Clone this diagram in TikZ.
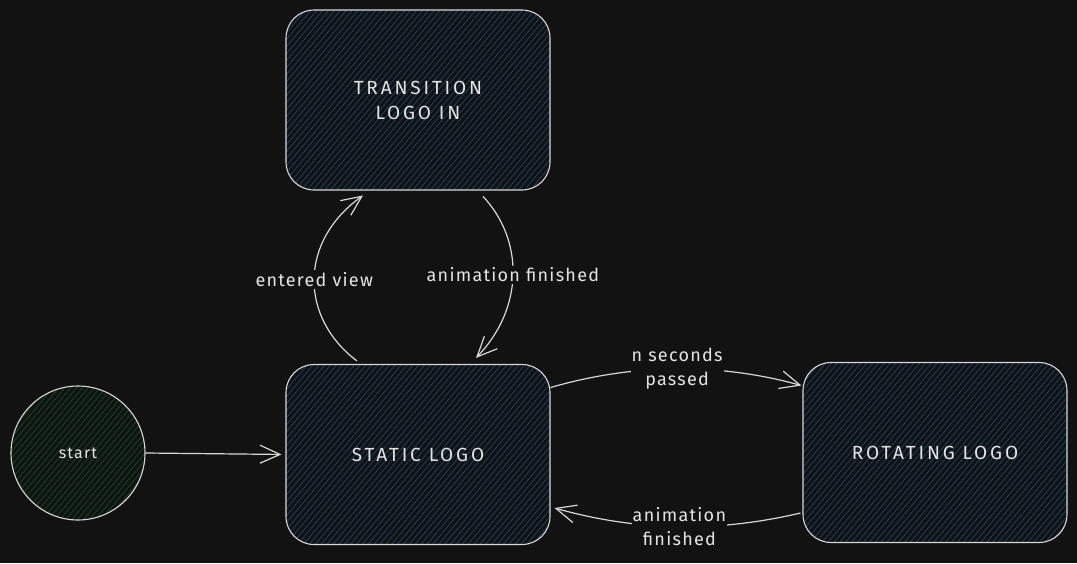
\documentclass[tikz,border=0pt]{standalone}
\usepackage{fontspec}
\setmainfont{Fira Sans}
\newfontfamily\capsfont[LetterSpace=15]{Fira Sans}
\newfontfamily\lblfont[LetterSpace=7]{Fira Sans}
\usetikzlibrary{arrows.meta,patterns.meta}
\definecolor{bgc}{HTML}{121212}
\definecolor{strokec}{HTML}{D8D8D8}
\definecolor{txtc}{HTML}{E4E4E4}
\definecolor{hblue}{HTML}{1B3E5E}
\definecolor{hgreen}{HTML}{10441F}
\tikzset{
  statebox/.style={draw=strokec, line width=1.1pt, rounded corners=28pt,
    minimum width=264pt, minimum height=180pt, inner sep=0pt,
    pattern={Lines[angle=50,distance=4.5pt,line width=0.9pt]}, pattern color=hblue,
    text=txtc, font=\capsfont\fontsize{19}{25}\selectfont, align=center},
  startcircle/.style={circle, draw=strokec, line width=1.1pt, minimum size=134pt, inner sep=0pt,
    pattern={Lines[angle=50,distance=4.5pt,line width=0.9pt]}, pattern color=hgreen,
    text=txtc, font=\lblfont\fontsize{16}{20}\selectfont},
  conn/.style={draw=strokec, line width=1.2pt, -{Straight Barb[length=20pt,width=18pt,line width=1.2pt]}},
  lbl/.style={fill=bgc, text=txtc, inner sep=2pt, font=\lblfont\fontsize{18}{24}\selectfont, align=center}
}
\begin{document}
\begin{tikzpicture}[x=1pt,y=-1pt]
\fill[bgc] (0,0) rectangle (1077,563);
\useasboundingbox (0,0) rectangle (1077,563);
\node[statebox] (trans) at (418,100) {TRANSITION\\LOGO IN};
\node[statebox] (static) at (418,454.5) {STATIC LOGO};
\node[statebox] (rot) at (935,452.5) {ROTATING LOGO};
\node[startcircle] (start) at (78,453) {start};
% start -> static
\draw[conn, shorten >=4pt] (start.east) -- (static.west);
% entered view
\draw[conn] ([xshift=-61pt,yshift=3pt]static.north) .. controls (300,318) and (298,242) .. ([xshift=-55pt,yshift=-5pt]trans.south)
  node[lbl, pos=0.5] (ev) {entered view};
% animation finished (top)
\draw[conn] ([xshift=65pt,yshift=-6pt]trans.south) .. controls (524,240) and (524,308) .. ([xshift=58pt,yshift=6pt]static.north)
  node[lbl, pos=0.5] (af1) {animation finished};
% n seconds passed
\draw[conn] ([yshift=67pt]static.east) .. controls (635,363) and (720,363) .. ([xshift=-1pt,yshift=67pt]rot.west)
  node[lbl, pos=0.5, inner sep=1pt] (nsp) {n seconds\\passed};
% animation finished (bottom)
\draw[conn] ([xshift=-2pt,yshift=-60.5pt]rot.west) .. controls (720,532) and (640,532) .. ([xshift=4pt,yshift=-53.5pt]static.east)
  node[lbl, pos=0.5, inner sep=1pt] (af2) {animation\\finished};
\end{tikzpicture}
\end{document}
